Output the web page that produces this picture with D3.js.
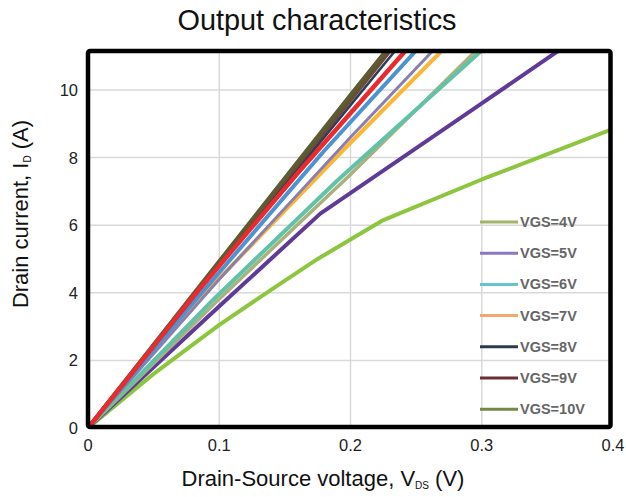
<!DOCTYPE html>
<html><head><meta charset="utf-8">
<script src="https://cdn.jsdelivr.net/npm/d3@7"></script>
<style>body{margin:0;background:#fff}svg{display:block}</style>
</head><body>
<svg id="c" width="626" height="497"></svg>
<script>
// ---- data ----
const xTicks = [0, 0.1, 0.2, 0.3, 0.4];
const yTicks = [0, 2, 4, 6, 8, 10];
const legendLabels = ["VGS=4V","VGS=5V","VGS=6V","VGS=7V","VGS=8V","VGS=9V","VGS=10V"];
const legendColors = ["#a3b46a","#8a78c0","#69c3cf","#f3a66e","#2c3a4f","#6b2f33","#77874a"];

const greenVds = [0, 0.05, 0.1, 0.14, 0.175, 0.225, 0.3, 0.4];
const greenId  = [0, 1.6, 3.05, 4.1, 5.0, 6.15, 7.35, 8.85];
const purpleVds = [0, 0.1, 0.177, 0.3, 0.36];
const purpleId  = [0, 3.6, 6.34, 9.6, 11.2];
const tealVds = [0, 0.095, 0.19, 0.301];
const tealId  = [0, 3.78, 7.32, 11.2];
const oliveVds = [0, 0.099, 0.2, 0.298];
const oliveId  = [0, 3.78, 7.5, 11.25];
const orangeVds = [0, 0.084, 0.194, 0.272];
const orangeId  = [0, 3.78, 8.2, 11.25];
const lavenderVds = [0, 0.1, 0.2, 0.265];
const lavenderId  = [0, 4.4, 8.6, 11.25];
const blueVds = [0, 0.08, 0.18, 0.252];
const blueId  = [0, 3.7, 8.2, 11.25];
const navyVds = [0, 0.1, 0.2, 0.236];
const navyId  = [0, 4.8, 9.55, 11.25];
const brownVds = [0, 0.1, 0.2, 0.232];
const brownId  = [0, 4.86, 9.7, 11.25];
const darkOliveVds = [0, 0.1, 0.2, 0.23];
const darkOliveId  = [0, 4.93, 9.85, 11.3];
const redVds = [0, 0.08, 0.16, 0.244];
const redId  = [0, 3.88, 7.55, 11.25];

const curves = [
  {vds: greenVds, id: greenId, color: "#8cc63e", w: 4},
  {vds: purpleVds, id: purpleId, color: "#5f3a97", w: 4},
  {vds: oliveVds, id: oliveId, color: "#aab07e", w: 3.5},
  {vds: tealVds, id: tealId, color: "#62c2a8", w: 4},
  {vds: orangeVds, id: orangeId, color: "#fbb636", w: 4},
  {vds: lavenderVds, id: lavenderId, color: "#8a80b0", w: 3},
  {vds: blueVds, id: blueId, color: "#4b93d1", w: 4},
  {vds: brownVds, id: brownId, color: "#6b4d35", w: 4},
  {vds: darkOliveVds, id: darkOliveId, color: "#5c5b32", w: 4},
  {vds: navyVds, id: navyId, color: "#2f3d5a", w: 2.5},
  {vds: redVds, id: redId, color: "#ea2a2e", w: 4.5}
];

// ---- layout ----
const svg = d3.select("#c");
const L = 88, R = 610.5, T = 51, B = 427;
const x = d3.scaleLinear().domain([0, 0.4]).range([88, 613]);
const y = d3.scaleLinear().domain([0, 11.15]).range([428, 51]);
const font = "'Liberation Sans', Arial, sans-serif";

svg.append("defs").append("clipPath").attr("id","clip")
  .append("rect").attr("x", L).attr("y", T).attr("width", R - L).attr("height", B - T);

// grid
const g = svg.append("g");
g.selectAll(".vg").data(xTicks.filter(d => d > 0 && d < 0.4)).enter().append("line")
  .attr("x1", d => x(d)).attr("x2", d => x(d)).attr("y1", T).attr("y2", B)
  .attr("stroke", "#d9d9d9").attr("stroke-width", 1.5);
g.selectAll(".hg").data(yTicks.filter(d => d > 0)).enter().append("line")
  .attr("x1", L).attr("x2", R).attr("y1", d => y(d)).attr("y2", d => y(d))
  .attr("stroke", "#d9d9d9").attr("stroke-width", 1.5);

// curves
const line = d3.line().x(d => x(d[0])).y(d => y(d[1]));
svg.append("g").attr("clip-path", "url(#clip)")
  .selectAll("path").data(curves).enter().append("path")
  .attr("d", c => line(c.vds.map((v, i) => [v, c.id[i]])))
  .attr("fill", "none").attr("stroke", c => c.color).attr("stroke-width", c => c.w)
  .attr("stroke-linejoin", "round");

// border
svg.append("rect").attr("x", L).attr("y", T).attr("width", R - L).attr("height", B - T)
  .attr("fill", "none").attr("stroke", "#000").attr("stroke-width", 4.5).attr("rx", 2);

// legend
const leg = svg.append("g");
legendLabels.forEach((lab, i) => {
  const yy = 222 + i * 31.2;
  leg.append("line").attr("x1", 480).attr("x2", 518).attr("y1", yy).attr("y2", yy)
    .attr("stroke", legendColors[i]).attr("stroke-width", 3);
  leg.append("text").attr("x", 520).attr("y", yy + 5).text(lab)
    .attr("font-family", font).attr("font-weight", "bold").attr("font-size", 14.5)
    .attr("fill", "#666");
});

// tick labels
svg.selectAll(".yt").data(yTicks).enter().append("text")
  .attr("x", 78).attr("y", d => y(d) + 6).attr("text-anchor", "end")
  .attr("font-family", font).attr("font-size", 16.5).attr("fill", "#222")
  .text(d => d);
svg.selectAll(".xt").data(xTicks).enter().append("text")
  .attr("x", d => x(d)).attr("y", 451).attr("text-anchor", "middle")
  .attr("font-family", font).attr("font-size", 16.5).attr("fill", "#222")
  .text(d => d === 0 ? "0" : d3.format(".1f")(d));

// title
svg.append("text").attr("x", 317).attr("y", 30).attr("text-anchor", "middle")
  .attr("font-family", font).attr("font-size", 29).attr("fill", "#111")
  .attr("textLength", 279).attr("lengthAdjust", "spacingAndGlyphs")
  .text("Output characteristics");

// x axis title
const xt = svg.append("text").attr("x", 323).attr("y", 486).attr("text-anchor", "middle")
  .attr("font-family", font).attr("font-size", 22).attr("fill", "#111");
xt.append("tspan").text("Drain-Source voltage, V");
xt.append("tspan").attr("font-size", 10).attr("dy", 3).text("DS");
xt.append("tspan").attr("dy", -3).text(" (V)");

// y axis title
const yt = svg.append("text").attr("transform", "translate(28,214) rotate(-90)")
  .attr("text-anchor", "middle").attr("font-family", font).attr("font-size", 22).attr("fill", "#111");
yt.append("tspan").text("Drain current, I");
yt.append("tspan").attr("font-size", 10).attr("dy", 3).text("D");
yt.append("tspan").attr("dy", -3).text(" (A)");
</script>
</body></html>
